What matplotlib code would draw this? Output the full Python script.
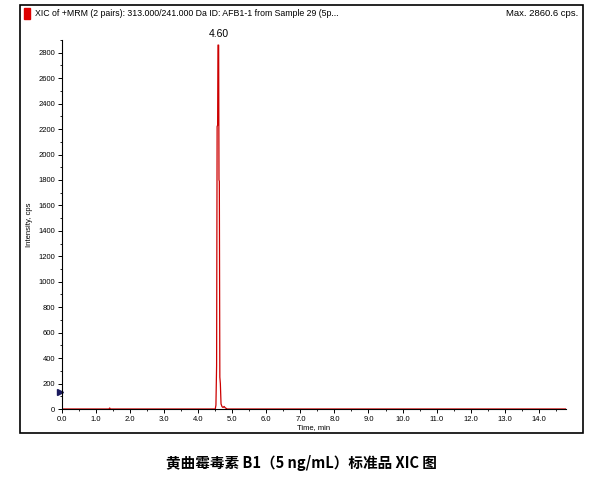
import matplotlib.pyplot as plt
from matplotlib.patches import Rectangle

# chromatogram (time in min, intensity in cps)
time = [0.0, 1.38, 1.40, 1.42, 4.50, 4.52, 4.54, 4.555, 4.57, 4.58, 4.60, 4.61,
        4.62, 4.635, 4.65, 4.67, 4.70, 4.73, 4.76, 4.79, 4.82, 4.85, 14.8]
intensity = [0, 0, 8, 0, 0, 30, 340, 2220, 2230, 2860, 2860, 1800,
             1790, 250, 200, 40, 18, 12, 20, 10, 5, 0, 0]

peak_rt = 4.60
max_cps = 2860.6
x_ticks = [0.0, 1.0, 2.0, 3.0, 4.0, 5.0, 6.0, 7.0, 8.0, 9.0, 10.0, 11.0, 12.0, 13.0, 14.0]
y_ticks = list(range(0, 2801, 200))

plt.rcParams['font.family'] = ['Liberation Sans', 'DejaVu Sans']

fig = plt.figure(figsize=(6, 4.78), dpi=100)

# outer frame
fig.patches.append(Rectangle((20 / 600, 1 - 433 / 478), 563 / 600, 428 / 478,
                             transform=fig.transFigure, fill=False,
                             edgecolor='black', linewidth=1.2))

ax = fig.add_axes([62 / 600, 1 - 409 / 478, 504 / 600, 369 / 478])
ax.plot(time, intensity, color='#cc0000', linewidth=0.9)
ax.set_xlim(0, 14.8)
ax.set_ylim(0, 2860)
ax.spines['top'].set_visible(False)
ax.spines['right'].set_visible(False)
ax.set_xticks(x_ticks)
ax.set_xticklabels([f'{v:.1f}' for v in x_ticks])
ax.set_yticks(y_ticks)
ax.set_xticks([v + 0.5 for v in x_ticks], minor=True)
ax.set_yticks([v + 100 for v in y_ticks], minor=True)
ax.tick_params(labelsize=5.5, length=3, width=0.7, pad=2)
ax.tick_params(which='minor', length=1.5, width=0.6)
ax.set_xlabel('Time, min', fontsize=5.5, labelpad=1)
ax.set_ylabel('Intensity, cps', fontsize=5.5, labelpad=4)

# peak label
ax.annotate(f'{peak_rt:.2f}', xy=(peak_rt, max_cps), xytext=(0, 4),
            textcoords='offset points', ha='center', va='bottom', fontsize=7.5,
            annotation_clip=False)

# marker arrow at left of y-axis
ax.plot([-0.05], [130], marker='>', color='#1a1a5e', markersize=4,
        clip_on=False)

# header text inside the frame
fig.patches.append(Rectangle((24 / 600, 1 - 19 / 478), 6 / 600, 11 / 478,
                             transform=fig.transFigure, color='#dd0000'))
fig.text(35 / 600, 1 - 13 / 478,
         'XIC of +MRM (2 pairs): 313.000/241.000 Da ID: AFB1-1 from Sample 29 (5p...',
         fontsize=6.3, va='center', ha='left')
fig.text(578 / 600, 1 - 13 / 478, f'Max. {max_cps} cps.', fontsize=6.8,
         va='center', ha='right')

# caption
fig.text(0.503, 1 - 463 / 478, '黄曲霉毒素 B1（5 ng/mL）标准品 XIC 图',
         fontsize=10.5, fontweight='bold', ha='center', va='center',
         family=['Noto Sans CJK SC', 'DejaVu Sans'])

fig.savefig('out.png', dpi=100)
